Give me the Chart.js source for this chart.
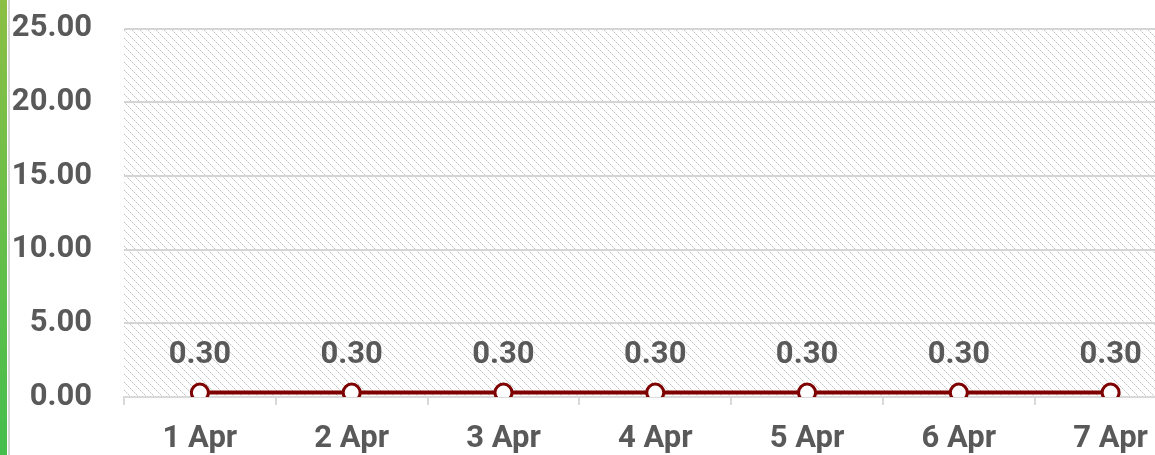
<!DOCTYPE html>
<html>
<head>
<meta charset="utf-8">
<script src="https://cdn.jsdelivr.net/npm/chart.js@4.4.1/dist/chart.umd.min.js"></script>
<style>
  html, body { margin: 0; padding: 0; background: #fff; overflow: hidden; }
  #wrap { position: relative; width: 1155px; height: 455px; overflow: hidden; }
  #bar { position: absolute; left: 0; top: 0; width: 7px; height: 455px;
         background: linear-gradient(to bottom, #8bbf45, #45be4d); }
  #edge { position: absolute; left: 8px; top: 0; width: 2px; height: 455px; background: #d4d6d8; }
  #box { position: absolute; left: 0; top: -22px; width: 1198px; height: 477px; }
</style>
</head>
<body>
<div id="wrap">
  <div id="box"><canvas id="chart"></canvas></div>
  <div id="bar"></div>
  <div id="edge"></div>
</div>
<script>
const days = ['1 Apr', '2 Apr', '3 Apr', '4 Apr', '5 Apr', '6 Apr', '7 Apr'];
const values = [0.30, 0.30, 0.30, 0.30, 0.30, 0.30, 0.30];
const yTicks = [0, 5, 10, 15, 20, 25];

const textColor = '#595959';
const fontFamily = "Roboto, 'Liberation Sans', sans-serif";

function makeHatch() {
  const c = document.createElement('canvas');
  c.width = 8;
  c.height = 8;
  const g = c.getContext('2d');
  g.fillStyle = '#ffffff';
  g.fillRect(0, 0, 8, 8);
  for (let i = 0; i < 8; i++) {
    g.fillStyle = i % 2 === 0 ? '#c4c4c4' : '#e0e0e0';
    g.fillRect(i, i, 1, 1);
  }
  return g.createPattern(c, 'repeat');
}

// hatched plot background
const hatchBg = {
  id: 'hatchBg',
  beforeDraw(chart) {
    const { ctx, chartArea: a } = chart;
    ctx.save();
    ctx.fillStyle = makeHatch();
    ctx.fillRect(a.left, a.top, a.right - a.left, a.bottom - a.top);
    ctx.restore();
  }
};

// value labels above the points
const valueLabels = {
  id: 'valueLabels',
  afterDatasetsDraw(chart) {
    const { ctx } = chart;
    const meta = chart.getDatasetMeta(0);
    ctx.save();
    ctx.font = 'bold 31px ' + fontFamily;
    ctx.fillStyle = textColor;
    ctx.textAlign = 'center';
    ctx.textBaseline = 'middle';
    meta.data.forEach((pt, i) => {
      ctx.fillText(values[i].toFixed(2), pt.x, pt.y - 37);
    });
    ctx.restore();
  }
};

new Chart(document.getElementById('chart'), {
  type: 'line',
  data: {
    labels: days,
    datasets: [{
      data: values,
      borderColor: '#7f0000',
      borderWidth: 4,
      pointRadius: 8.5,
      pointBorderWidth: 3,
      pointBackgroundColor: '#ffffff',
      pointBorderColor: '#7f0000',
      tension: 0
    }]
  },
  options: {
    responsive: true,
    maintainAspectRatio: false,
    animation: false,
    layout: { padding: { top: 4, right: 3, left: 0, bottom: 0 } },
    plugins: { legend: { display: false }, tooltip: { enabled: false } },
    scales: {
      x: {
        offset: true,
        afterFit: s => { s.height = 58; },
        grid: { offset: true, drawOnChartArea: false, drawTicks: true, tickLength: 8, color: '#d9d9d9', lineWidth: 2 },
        border: { display: true, color: '#d9d9d9', width: 2 },
        ticks: { color: textColor, padding: 16, font: { family: fontFamily, size: 31, weight: 'bold' }, maxRotation: 0 }
      },
      y: {
        min: 0,
        max: 25,
        afterFit: s => { s.width = 124; },
        afterBuildTicks: s => { s.ticks = yTicks.map(v => ({ value: v })); },
        grid: { drawTicks: false, color: c => c.tick.value === 0 ? 'rgba(0,0,0,0)' : '#d4d4d4', lineWidth: 2 },
        border: { display: false },
        ticks: {
          color: textColor,
          padding: 32,
          font: { family: fontFamily, size: 31, weight: 'bold' },
          callback: v => Number(v).toFixed(2)
        }
      }
    }
  },
  plugins: [hatchBg, valueLabels]
});
</script>
</body>
</html>
